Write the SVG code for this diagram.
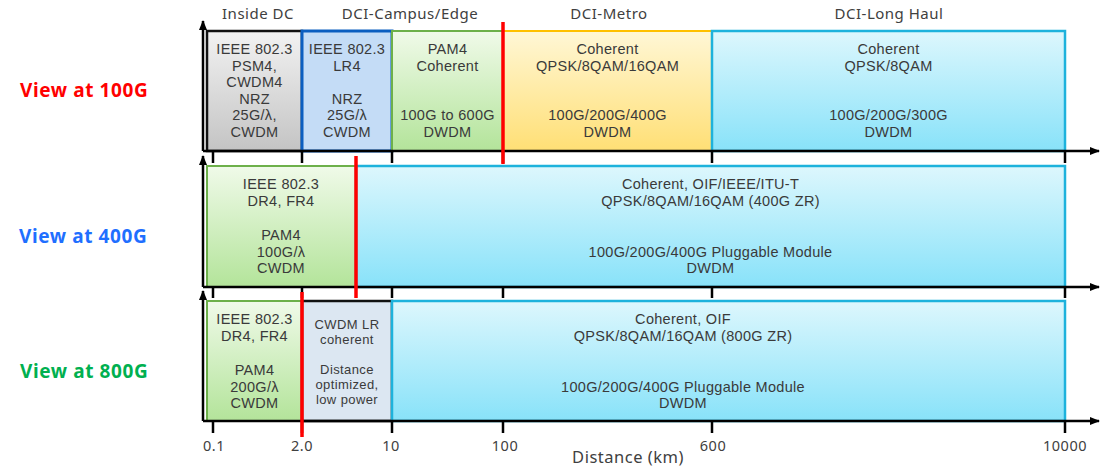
<svg xmlns="http://www.w3.org/2000/svg" width="1105" height="468" viewBox="0 0 1105 468">
<defs>
<linearGradient id="gGray" x1="0" y1="0" x2="0" y2="1"><stop offset="0" stop-color="#F2F2F2"/><stop offset="1" stop-color="#C4C4C4"/></linearGradient>
<linearGradient id="gGreen" x1="0" y1="0" x2="0" y2="1"><stop offset="0" stop-color="#F0FAE9"/><stop offset="1" stop-color="#B3E49A"/></linearGradient>
<linearGradient id="gYellow" x1="0" y1="0" x2="0" y2="1"><stop offset="0" stop-color="#FFF7D6"/><stop offset="1" stop-color="#FFDF75"/></linearGradient>
<linearGradient id="gCyan" x1="0" y1="0" x2="0" y2="1"><stop offset="0" stop-color="#DDF7FD"/><stop offset="1" stop-color="#88E2F9"/></linearGradient>
<marker id="arr" markerWidth="10" markerHeight="8" refX="9" refY="4" orient="auto" markerUnits="userSpaceOnUse"><path d="M0,0 L10,4 L0,8 Z" fill="#000"/></marker>
<style>
.t{font-family:"Liberation Sans",Arial,sans-serif;font-size:14.5px;fill:#3A3A3A;text-anchor:middle;letter-spacing:0.3px}
.ts{font-family:"Liberation Sans",Arial,sans-serif;font-size:13px;fill:#3A3A3A;text-anchor:middle;letter-spacing:0.4px}
.h{font-family:"Noto Sans","Open Sans",sans-serif;font-size:15px;fill:#404040;text-anchor:middle;letter-spacing:0.5px}
.v{font-family:"Noto Sans","Open Sans",sans-serif;font-size:19px;font-weight:bold;letter-spacing:0.6px}
.ax{stroke:#000;stroke-width:2.5;fill:none}
.tk{stroke:#000;stroke-width:2.5}
.red{stroke:#FF0000;stroke-width:3.5}
.bGray{fill:url(#gGray);stroke:#111;stroke-width:2.5}
.bBlue{fill:#C4DCF6;stroke:#0B5EC0;stroke-width:3}
.bGreen{fill:url(#gGreen);stroke:#6DB04A;stroke-width:2}
.bYellow{fill:url(#gYellow);stroke:#FFC000;stroke-width:2}
.bCyan{fill:url(#gCyan);stroke:#1DB2DC;stroke-width:2.5}
.bLR{fill:#DCE7F2;stroke:#111;stroke-width:2.5}
</style>
</defs>
<rect width="1105" height="468" fill="#FFFFFF"/>

<g id="headers">
<text class="h" x="258" y="19">Inside DC</text>
<text class="h" x="410" y="19">DCI-Campus/Edge</text>
<text class="h" x="609" y="19">DCI-Metro</text>
<text class="h" x="889" y="19">DCI-Long Haul</text>
</g>

<g id="view-labels">
<text class="v" x="20" y="97" fill="#FF0000">View at 100G</text>
<text class="v" x="19" y="243" fill="#1F6FFF">View at 400G</text>
<text class="v" x="20" y="378" fill="#00B050">View at 800G</text>
</g>

<!-- Row 1 -->
<g id="r1-inside">
<rect class="bGray" x="207" y="31" width="95" height="120"/>
<text class="t" x="254.5" y="54">IEEE 802.3</text>
<text class="t" x="254.5" y="70.5">PSM4,</text>
<text class="t" x="254.5" y="87">CWDM4</text>
<text class="t" x="254.5" y="103.5">NRZ</text>
<text class="t" x="254.5" y="120">25G/λ,</text>
<text class="t" x="254.5" y="136.5">CWDM</text>
</g>
<g id="r1-lr4">
<rect class="bBlue" x="302" y="31" width="90" height="120"/>
<text class="t" x="347" y="54">IEEE 802.3</text>
<text class="t" x="347" y="70.5">LR4</text>
<text class="t" x="347" y="103.5">NRZ</text>
<text class="t" x="347" y="120">25G/λ</text>
<text class="t" x="347" y="136.5">CWDM</text>
</g>
<g id="r1-pam4">
<rect class="bGreen" x="392" y="31" width="111" height="120"/>
<text class="t" x="447.5" y="54">PAM4</text>
<text class="t" x="447.5" y="70.5">Coherent</text>
<text class="t" x="447.5" y="120">100G to 600G</text>
<text class="t" x="447.5" y="136.5">DWDM</text>
</g>
<g id="r1-metro">
<rect class="bYellow" x="503" y="31" width="209" height="120"/>
<text class="t" x="607.5" y="54">Coherent</text>
<text class="t" x="607.5" y="70.5">QPSK/8QAM/16QAM</text>
<text class="t" x="607.5" y="120">100G/200G/400G</text>
<text class="t" x="607.5" y="136.5">DWDM</text>
</g>
<g id="r1-longhaul">
<rect class="bCyan" x="712" y="31" width="353" height="120"/>
<text class="t" x="888.5" y="54">Coherent</text>
<text class="t" x="888.5" y="70.5">QPSK/8QAM</text>
<text class="t" x="888.5" y="120">100G/200G/300G</text>
<text class="t" x="888.5" y="136.5">DWDM</text>
</g>

<!-- Row 2 -->
<g id="r2-dr4">
<rect class="bGreen" x="207" y="166" width="149" height="121"/>
<text class="t" x="281" y="189">IEEE 802.3</text>
<text class="t" x="281" y="206">DR4, FR4</text>
<text class="t" x="281" y="240">PAM4</text>
<text class="t" x="281" y="256.5">100G/λ</text>
<text class="t" x="281" y="273">CWDM</text>
</g>
<g id="r2-coherent">
<rect class="bCyan" x="356" y="166" width="709" height="121"/>
<text class="t" x="710.5" y="189">Coherent, OIF/IEEE/ITU-T</text>
<text class="t" x="710.5" y="206">QPSK/8QAM/16QAM (400G ZR)</text>
<text class="t" x="710.5" y="256.5">100G/200G/400G Pluggable Module</text>
<text class="t" x="710.5" y="273">DWDM</text>
</g>

<!-- Row 3 -->
<g id="r3-dr4">
<rect class="bGreen" x="207" y="301" width="95" height="120"/>
<text class="t" x="254.5" y="324">IEEE 802.3</text>
<text class="t" x="254.5" y="341">DR4, FR4</text>
<text class="t" x="254.5" y="375">PAM4</text>
<text class="t" x="254.5" y="391.5">200G/λ</text>
<text class="t" x="254.5" y="408">CWDM</text>
</g>
<g id="r3-cwdmlr">
<rect class="bLR" x="302" y="301" width="90" height="120"/>
<text class="ts" x="347" y="328.5">CWDM LR</text>
<text class="ts" x="347" y="343.5">coherent</text>
<text class="ts" x="347" y="373.5">Distance</text>
<text class="ts" x="347" y="388.5">optimized,</text>
<text class="ts" x="347" y="403.5">low power</text>
</g>
<g id="r3-coherent">
<rect class="bCyan" x="392" y="301" width="673" height="120"/>
<text class="t" x="683" y="324">Coherent, OIF</text>
<text class="t" x="683" y="341">QPSK/8QAM/16QAM (800G ZR)</text>
<text class="t" x="683" y="391.5">100G/200G/400G Pluggable Module</text>
<text class="t" x="683" y="408">DWDM</text>
</g>

<g id="connectors">
<path class="ax" d="M203,151 L203,21" marker-end="url(#arr)"/>
<path class="ax" d="M203,151 L1099,151" marker-end="url(#arr)"/>
<path class="ax" d="M203,287 L203,156" marker-end="url(#arr)"/>
<path class="ax" d="M203,287 L1099,287" marker-end="url(#arr)"/>
<path class="ax" d="M203,421 L203,291" marker-end="url(#arr)"/>
<path class="ax" d="M203,421 L1099,421" marker-end="url(#arr)"/>
<g class="tk">
<line x1="213" y1="151" x2="213" y2="163"/><line x1="302" y1="151" x2="302" y2="163"/><line x1="392" y1="151" x2="392" y2="163"/><line x1="503" y1="151" x2="503" y2="163"/><line x1="712" y1="151" x2="712" y2="163"/><line x1="1065" y1="151" x2="1065" y2="163"/>
<line x1="213" y1="287" x2="213" y2="298"/><line x1="302" y1="287" x2="302" y2="298"/><line x1="392" y1="287" x2="392" y2="298"/><line x1="503" y1="287" x2="503" y2="298"/><line x1="712" y1="287" x2="712" y2="298"/><line x1="1065" y1="287" x2="1065" y2="298"/>
<line x1="213" y1="421" x2="213" y2="433"/><line x1="302" y1="421" x2="302" y2="433"/><line x1="392" y1="421" x2="392" y2="433"/><line x1="503" y1="421" x2="503" y2="433"/><line x1="712" y1="421" x2="712" y2="433"/><line x1="1065" y1="421" x2="1065" y2="433"/>
</g>
<line class="red" x1="503" y1="22" x2="503" y2="164"/>
<line class="red" x1="356" y1="156" x2="356" y2="298"/>
<line class="red" x1="302" y1="292" x2="302" y2="437"/>
</g>

<g id="axis-labels">
<text class="h" x="214" y="451" style="font-size:14.5px">0.1</text>
<text class="h" x="302" y="451" style="font-size:14.5px">2.0</text>
<text class="h" x="391" y="451" style="font-size:14.5px">10</text>
<text class="h" x="505" y="451" style="font-size:14.5px">100</text>
<text class="h" x="713" y="451" style="font-size:14.5px">600</text>
<text class="h" x="1065" y="451" style="font-size:14.5px">10000</text>
<text class="h" x="628" y="463" style="font-size:16.5px">Distance (km)</text>
</g>
</svg>
